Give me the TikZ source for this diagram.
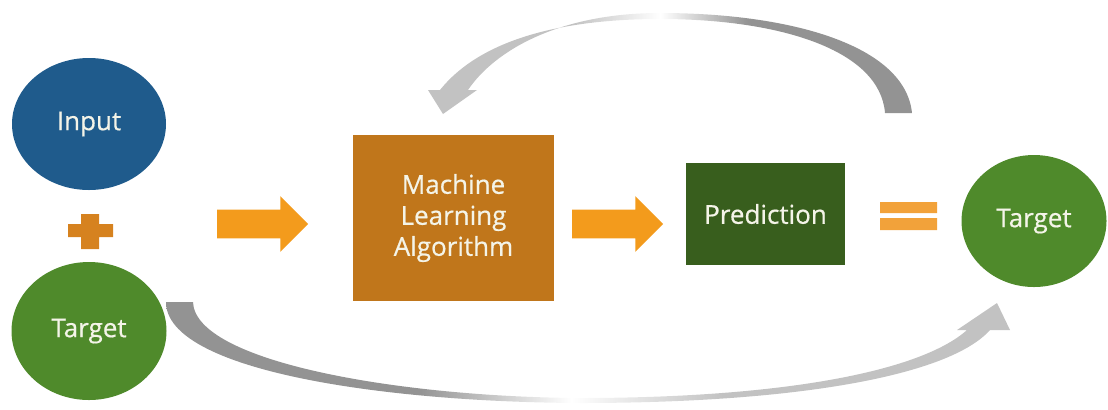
\documentclass[tikz,border=0pt]{standalone}
\usepackage{fontspec}
\setmainfont{Open Sans}
\newfontfamily\labelfont{Open Sans}[FakeBold=0.6]
\usepackage{tikz}
\usetikzlibrary{shapes.geometric, shapes.arrows}
\definecolor{inputColor}{HTML}{1F5B8C}
\definecolor{targetColor}{HTML}{4F8A2B}
\definecolor{algoColor}{HTML}{C0761B}
\definecolor{predColor}{HTML}{385E1D}
\definecolor{arrowColor}{HTML}{F39B1C}
\definecolor{plusColor}{HTML}{D6821F}
\definecolor{eqColor}{HTML}{F2A23A}
\definecolor{arcLight}{HTML}{C2C2C2}
\definecolor{arcDark}{HTML}{939393}
\definecolor{textColor}{HTML}{F4F4E8}
\pgfdeclarehorizontalshading{topArc}{100bp}{color(0bp)=(arcLight); color(25bp)=(arcLight); color(40bp)=(arcLight); color(49bp)=(white); color(58bp)=(arcDark); color(75bp)=(arcDark); color(100bp)=(arcDark)}
\pgfdeclarehorizontalshading{bottomArc}{100bp}{color(0bp)=(arcDark); color(25bp)=(arcDark); color(40bp)=(arcDark); color(49bp)=(white); color(58bp)=(arcLight); color(75bp)=(arcLight); color(100bp)=(arcLight)}
\tikzset{
    blob/.style={ellipse, draw=none, text=textColor, font=\labelfont\fontsize{13}{15.5}\selectfont, inner sep=0pt},
    stepbox/.style={rectangle, draw=none, text=textColor, font=\labelfont\fontsize{13}{15.5}\selectfont, align=center, inner sep=0pt},
    blockArrow/.style={single arrow, fill=arrowColor, draw=none, inner xsep=0pt, inner ysep=7pt, minimum height=45.5pt, single arrow head extend=6.75pt}
}

\begin{document}
\begin{tikzpicture}[x=0.5pt, y=-0.5pt]
    \useasboundingbox (0,0) rectangle (1108,409);
    \node[blob, fill=inputColor, minimum width=77pt, minimum height=66pt] (input) at (89,124) {Input};
    \node[blob, fill=targetColor, minimum width=77.5pt, minimum height=69pt] (targetIn) at (89,331) {Target};
    \node[blob, fill=targetColor, minimum width=72.5pt, minimum height=66pt] (targetOut) at (1034,221) {Target};
    \node[stepbox, fill=algoColor, minimum width=100.5pt, minimum height=83pt] (algo) at (453.5,218) {Machine\\Learning\\Algorithm};
    \node[stepbox, fill=predColor, minimum width=79.5pt, minimum height=51pt] (pred) at (765.5,214) {Prediction};
    \node[blockArrow] (feedArrow) at (255.5,224) {};
    \node[blockArrow] (predArrow) at (610.5,224) {};
    \fill[plusColor] (68,224) rectangle (113,237) (81,214) rectangle (99,249);
    \fill[eqColor] (880,202) rectangle (937,213) (880,218) rectangle (937,230);
    \shade[shading=topArc] (912,113) .. controls (905,45) and (790,13) .. (660,13)
        .. controls (560,13) and (495,50) .. (468,90) -- (477,90) -- (443,114) -- (428,90) -- (440,90)
        .. controls (480,40) and (560,19) .. (660,19) .. controls (780,19) and (880,50) .. (885,113) -- cycle;
    \shade[shading=bottomArc] (166,302) .. controls (166,370) and (380,402) .. (580,403)
        .. controls (800,403) and (950,375) .. (990,330) -- (1010,330) -- (997,303) -- (957,330) -- (967,330)
        .. controls (920,372) and (780,398) .. (580,398) .. controls (400,397) and (195,362) .. (193,302) -- cycle;
\end{tikzpicture}
\end{document}
